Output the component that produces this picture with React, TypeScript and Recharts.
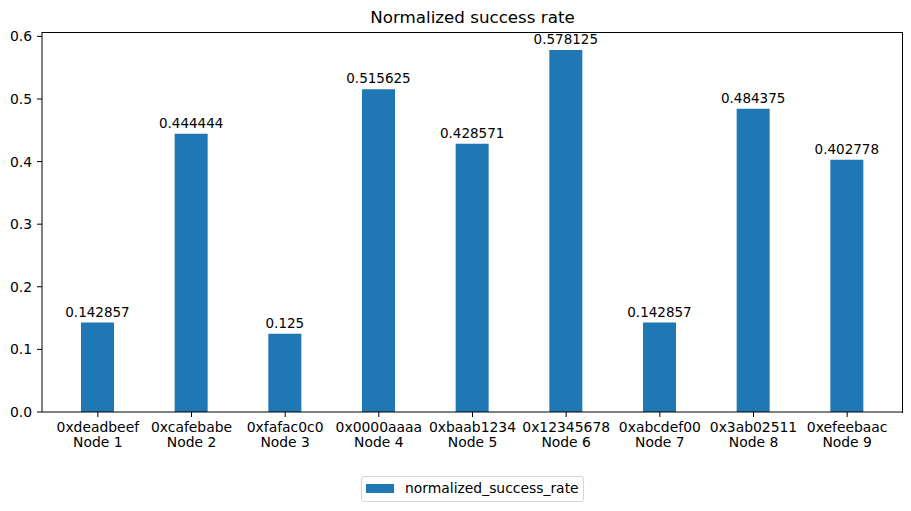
import React from 'react';
import { BarChart, Bar, XAxis, YAxis, LabelList } from 'recharts';

const nodeIds = ['0xdeadbeef', '0xcafebabe', '0xfafac0c0', '0x0000aaaa', '0xbaab1234', '0x12345678', '0xabcdef00', '0x3ab02511', '0xefeebaac'];
const nodeNames = ['Node 1', 'Node 2', 'Node 3', 'Node 4', 'Node 5', 'Node 6', 'Node 7', 'Node 8', 'Node 9'];
const successRates = [0.142857, 0.444444, 0.125, 0.515625, 0.428571, 0.578125, 0.142857, 0.484375, 0.402778];
const rateLabels = ['0.142857', '0.444444', '0.125', '0.515625', '0.428571', '0.578125', '0.142857', '0.484375', '0.402778'];
const yTicks = [0, 0.1, 0.2, 0.3, 0.4, 0.5, 0.6];

const data = nodeIds.map((id, i) => ({
  id,
  name: nodeNames[i],
  normalized_success_rate: successRates[i],
  label: rateLabels[i],
}));

const FONT = '"DejaVu Sans", sans-serif';
const BLUE = '#1f77b4';

// two line tick: hex id on top, node name below
const NodeTick = (props: any) => {
  const { x, y, payload } = props;
  const idx = payload.index;
  return (
    <g transform={`translate(${x},${y})`}>
      <text textAnchor="middle" fontFamily={FONT} fontSize={13.9} fill="#000">
        <tspan x={0} dy={13}>{nodeIds[idx]}</tspan>
        <tspan x={0} dy={15}>{nodeNames[idx]}</tspan>
      </text>
    </g>
  );
};

export default function App() {
  return (
    <div style={{ position: 'absolute', left: 0, top: 0, width: 911, height: 511, background: '#fff', fontFamily: FONT }}>
      <div style={{ position: 'absolute', left: 42, width: 861, top: 7, textAlign: 'center', fontSize: 16.7, color: '#000' }}>
        Normalized success rate
      </div>
      <BarChart
        width={911}
        height={511}
        data={data}
        margin={{ top: 32, right: 8, left: 0, bottom: 59 }}
      >
        <XAxis
          dataKey="id"
          height={40}
          padding={{ left: 9, right: 9 }}
          tick={<NodeTick />}
          tickSize={5}
          tickLine={{ stroke: '#000' }}
          axisLine={{ stroke: '#000' }}
          interval={0}
        />
        <YAxis
          width={42}
          domain={[0, 0.607]}
          ticks={yTicks}
          tickFormatter={(v: number) => v.toFixed(1)}
          tickSize={5}
          tickMargin={5}
          tick={{ fill: '#000', fontSize: 13.9, fontFamily: FONT }}
          tickLine={{ stroke: '#000' }}
          axisLine={{ stroke: '#000' }}
          allowDataOverflow
        />
        <Bar
          dataKey="normalized_success_rate"
          fill={BLUE}
          barSize={33}
          isAnimationActive={false}
        >
          <LabelList dataKey="label" position="top" offset={6} fill="#000" fontSize={13.5} fontFamily={FONT} />
        </Bar>
      </BarChart>
      {/* top and right spines of the axes box */}
      <div
        style={{
          position: 'absolute', left: 42, top: 32, width: 860, height: 380,
          borderTop: '1px solid #000', borderRight: '1px solid #000', pointerEvents: 'none',
        }}
      />
      <div
        style={{
          position: 'absolute', left: 361, top: 476, width: 221, height: 24,
          border: '1px solid #d6d6d6', borderRadius: 3, background: '#fff',
        }}
      >
        <div style={{ position: 'absolute', left: 4, top: 7, width: 28, height: 9, background: BLUE }} />
        <div style={{ position: 'absolute', left: 43, top: 3, fontSize: 13.9, color: '#000', lineHeight: '16px' }}>
          normalized_success_rate
        </div>
      </div>
    </div>
  );
}
